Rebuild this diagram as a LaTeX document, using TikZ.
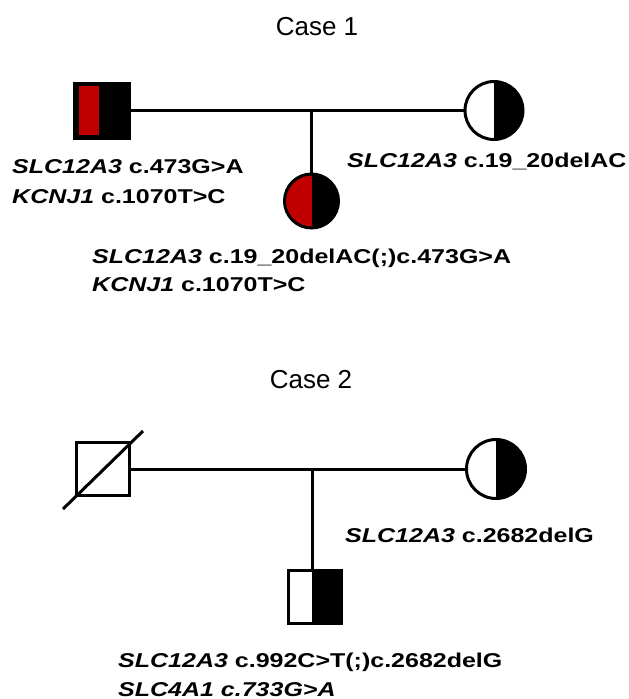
\documentclass[tikz,border=0pt]{standalone}
\usepackage{fontspec}
\setmainfont{Liberation Sans}
\newfontfamily\labfont[FakeStretch=1.25]{Liberation Sans}
\definecolor{dred}{RGB}{192,0,0}
\begin{document}
\begin{tikzpicture}[x=1pt,y=-1pt,
  lw/.style={line width=3pt},
  sq/.style={rectangle,draw,lw,inner sep=0pt,minimum size=#1},
  ci/.style={circle,draw,lw,inner sep=0pt,minimum size=#1},
  lab/.style={anchor=base west,inner sep=0pt,font=\labfont\bfseries\fontsize{20}{24}\selectfont},
  ttl/.style={anchor=base,inner sep=0pt,font=\fontsize{26}{30}\selectfont},
  rhalf/.style={path picture={\fill[black] ([xshift=#1]path picture bounding box.north) rectangle (path picture bounding box.south east);}},
]
\useasboundingbox (0,0) rectangle (629,699);
\fill[white] (0,0) rectangle (629,699);

% Case 1
\node[ttl] (t1) at (317,35) {Case 1};
\node[sq=55pt,fill=black,path picture={\fill[dred] ([xshift=4pt,yshift=-3pt]path picture bounding box.north west) rectangle ([xshift=24pt,yshift=3pt]path picture bounding box.south west);}] (f1) at (102,110.5) {};
\node[ci=58pt,rhalf=0pt] (m1) at (494,110.5) {};
\node[ci=54pt,fill=dred,rhalf=0pt] (c1) at (311.5,201) {};
\coordinate (j1) at (311.5,110.5);
\draw[lw] (f1) -- (m1);
\draw[lw] (j1) -- (c1);
\node[lab] (lf1a) at (12,173) {\textit{SLC12A3} c.473G>A};
\node[lab] (lf1b) at (12,203) {\textit{KCNJ1} c.1070T>C};
\node[lab] (lm1) at (347,167) {\textit{SLC12A3} c.19\_20delAC};
\node[lab] (lc1a) at (92,263) {\textit{SLC12A3} c.19\_20delAC(;)c.473G>A};
\node[lab] (lc1b) at (92,291) {\textit{KCNJ1} c.1070T>C};

% Case 2
\node[ttl] (t2) at (311,388) {Case 2};
\node[sq=53pt] (f2) at (103,469) {};
\coordinate (d1) at (63,509);
\coordinate (d2) at (143,431);
\draw[lw] (d1) -- (d2);
\node[ci=59pt,rhalf=0pt] (m2) at (496,469) {};
\node[sq=53pt,rhalf=-2.5pt] (c2) at (314.7,596.5) {};
\coordinate (j2) at (312,469);
\draw[lw] (f2) -- (m2);
\draw[lw] (j2) -- (j2 |- c2.north);
\node[lab] (lm2) at (345,542) {\textit{SLC12A3} c.2682delG};
\node[lab] (lc2a) at (118,667) {\textit{SLC12A3} c.992C>T(;)c.2682delG};
\node[lab] (lc2b) at (118,696) {\textit{SLC4A1 c.733G>A}};
\end{tikzpicture}
\end{document}
